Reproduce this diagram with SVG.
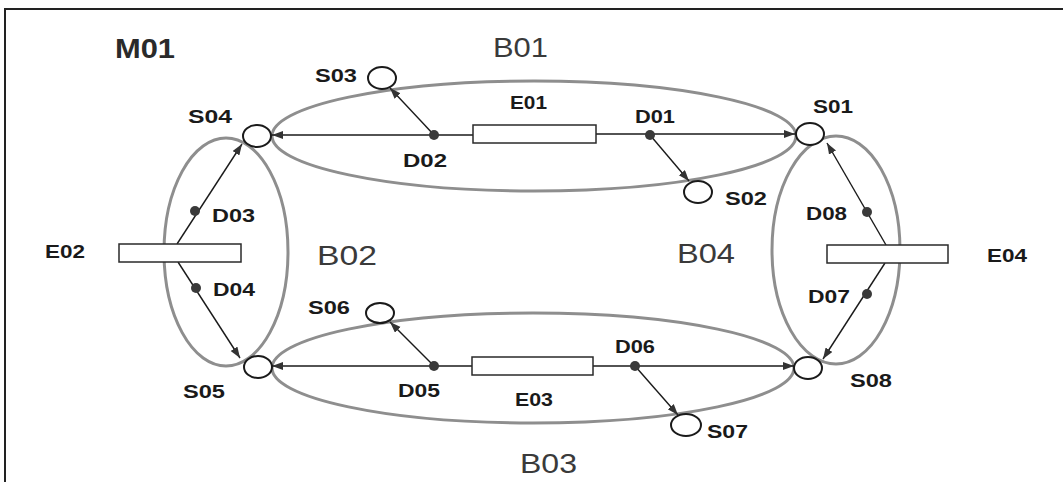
<svg xmlns="http://www.w3.org/2000/svg" width="1063" height="482" viewBox="0 0 1063 482">
<style>
.loop{fill:none;stroke:#8e8e8e;stroke-width:3}
.st{fill:#fff;stroke:#1a1a1a;stroke-width:2}
.eq{fill:#fff;stroke:#2a2a2a;stroke-width:1.5}
.dot{fill:#3a3a3a}
.ln{stroke:#1a1a1a;stroke-width:1.4;fill:none}
.ar{marker-end:url(#ah)}
.lb{font-family:"Liberation Sans",Arial,sans-serif;font-weight:bold;font-size:18px;fill:#1a1a1a}
.big{font-family:"Liberation Sans",Arial,sans-serif;font-size:28px;fill:#3a3a3a}
.bigb{font-family:"Liberation Sans",Arial,sans-serif;font-weight:bold;font-size:27px;fill:#2a2a2a}
</style>
<defs>
<marker id="ah" markerWidth="12" markerHeight="10" refX="11" refY="4" orient="auto" markerUnits="userSpaceOnUse">
<path d="M0,0 L11,4 L0,8 Z" fill="#333"/>
</marker>
</defs>
<rect width="1063" height="482" fill="#fff"/>
<path d="M5,482 V9 H1063" fill="none" stroke="#222" stroke-width="2"/>

<g id="M01"><text class="bigb" x="115" y="58" textLength="60" lengthAdjust="spacingAndGlyphs">M01</text></g>

<g id="B01"><ellipse class="loop" cx="534" cy="136" rx="262" ry="55"/><text class="big" x="493" y="57" textLength="55" lengthAdjust="spacingAndGlyphs">B01</text></g>
<g id="B03"><ellipse class="loop" cx="533" cy="368" rx="261" ry="55"/><text class="big" x="520" y="473" textLength="57" lengthAdjust="spacingAndGlyphs">B03</text></g>
<g id="B02"><ellipse class="loop" cx="226" cy="252" rx="62" ry="114"/><text class="big" x="317" y="265" textLength="60" lengthAdjust="spacingAndGlyphs">B02</text></g>
<g id="B04"><ellipse class="loop" cx="836" cy="250" rx="64" ry="114"/><text class="big" x="677" y="263" textLength="58" lengthAdjust="spacingAndGlyphs">B04</text></g>

<g id="connectors">
<line class="ln ar" x1="473" y1="135" x2="272" y2="135"/>
<line class="ln ar" x1="596" y1="134" x2="795" y2="134"/>
<line class="ln ar" x1="434" y1="135" x2="390" y2="88"/>
<line class="ln ar" x1="650" y1="135" x2="689" y2="181"/>
<line class="ln ar" x1="472" y1="366" x2="272" y2="366"/>
<line class="ln ar" x1="593" y1="366" x2="794" y2="366"/>
<line class="ln ar" x1="434" y1="366" x2="390" y2="322"/>
<line class="ln ar" x1="635" y1="366" x2="678" y2="415"/>
<line class="ln ar" x1="177" y1="244" x2="242" y2="144"/>
<line class="ln ar" x1="178" y1="262" x2="240" y2="358"/>
<line class="ln ar" x1="886" y1="245" x2="827" y2="143"/>
<line class="ln ar" x1="885" y1="263" x2="823" y2="359"/>
</g>

<g id="E01"><rect class="eq" x="473" y="125" width="123" height="18"/><text class="lb" x="510" y="109" textLength="37" lengthAdjust="spacingAndGlyphs">E01</text></g>
<g id="E02"><rect class="eq" x="119" y="244" width="122" height="18"/><text class="lb" x="45" y="258" textLength="40" lengthAdjust="spacingAndGlyphs">E02</text></g>
<g id="E03"><rect class="eq" x="472" y="357" width="121" height="18"/><text class="lb" x="515" y="406" textLength="38" lengthAdjust="spacingAndGlyphs">E03</text></g>
<g id="E04"><rect class="eq" x="827" y="245" width="121" height="18"/><text class="lb" x="987" y="262" textLength="40" lengthAdjust="spacingAndGlyphs">E04</text></g>

<g id="S01"><ellipse class="st" cx="810" cy="134" rx="14" ry="11"/><text class="lb" x="813" y="113" textLength="40" lengthAdjust="spacingAndGlyphs">S01</text></g>
<g id="S02"><ellipse class="st" cx="698" cy="192" rx="14" ry="11"/><text class="lb" x="725" y="205" textLength="42" lengthAdjust="spacingAndGlyphs">S02</text></g>
<g id="S03"><ellipse class="st" cx="382" cy="78" rx="14" ry="11"/><text class="lb" x="315" y="82" textLength="42" lengthAdjust="spacingAndGlyphs">S03</text></g>
<g id="S04"><ellipse class="st" cx="257" cy="136" rx="14" ry="11"/><text class="lb" x="188" y="123" textLength="44" lengthAdjust="spacingAndGlyphs">S04</text></g>
<g id="S05"><ellipse class="st" cx="258" cy="367" rx="14" ry="11"/><text class="lb" x="183" y="398" textLength="42" lengthAdjust="spacingAndGlyphs">S05</text></g>
<g id="S06"><ellipse class="st" cx="380" cy="313" rx="14" ry="10"/><text class="lb" x="308" y="314" textLength="42" lengthAdjust="spacingAndGlyphs">S06</text></g>
<g id="S07"><ellipse class="st" cx="686" cy="425" rx="15" ry="11"/><text class="lb" x="707" y="438" textLength="41" lengthAdjust="spacingAndGlyphs">S07</text></g>
<g id="S08"><ellipse class="st" cx="808" cy="368" rx="14" ry="11"/><text class="lb" x="850" y="387" textLength="42" lengthAdjust="spacingAndGlyphs">S08</text></g>

<g id="D01"><circle class="dot" cx="650" cy="135" r="5"/><text class="lb" x="635" y="123" textLength="40" lengthAdjust="spacingAndGlyphs">D01</text></g>
<g id="D02"><circle class="dot" cx="434" cy="135" r="5"/><text class="lb" x="403" y="167" textLength="44" lengthAdjust="spacingAndGlyphs">D02</text></g>
<g id="D03"><circle class="dot" cx="195" cy="211" r="5"/><text class="lb" x="212" y="222" textLength="43" lengthAdjust="spacingAndGlyphs">D03</text></g>
<g id="D04"><circle class="dot" cx="196" cy="288" r="5"/><text class="lb" x="213" y="296" textLength="42" lengthAdjust="spacingAndGlyphs">D04</text></g>
<g id="D05"><circle class="dot" cx="434" cy="366" r="5"/><text class="lb" x="398" y="397" textLength="42" lengthAdjust="spacingAndGlyphs">D05</text></g>
<g id="D06"><circle class="dot" cx="635" cy="366" r="5"/><text class="lb" x="615" y="353" textLength="40" lengthAdjust="spacingAndGlyphs">D06</text></g>
<g id="D07"><circle class="dot" cx="867" cy="294" r="5"/><text class="lb" x="808" y="303" textLength="42" lengthAdjust="spacingAndGlyphs">D07</text></g>
<g id="D08"><circle class="dot" cx="867" cy="212" r="5"/><text class="lb" x="806" y="220" textLength="41" lengthAdjust="spacingAndGlyphs">D08</text></g>
</svg>
